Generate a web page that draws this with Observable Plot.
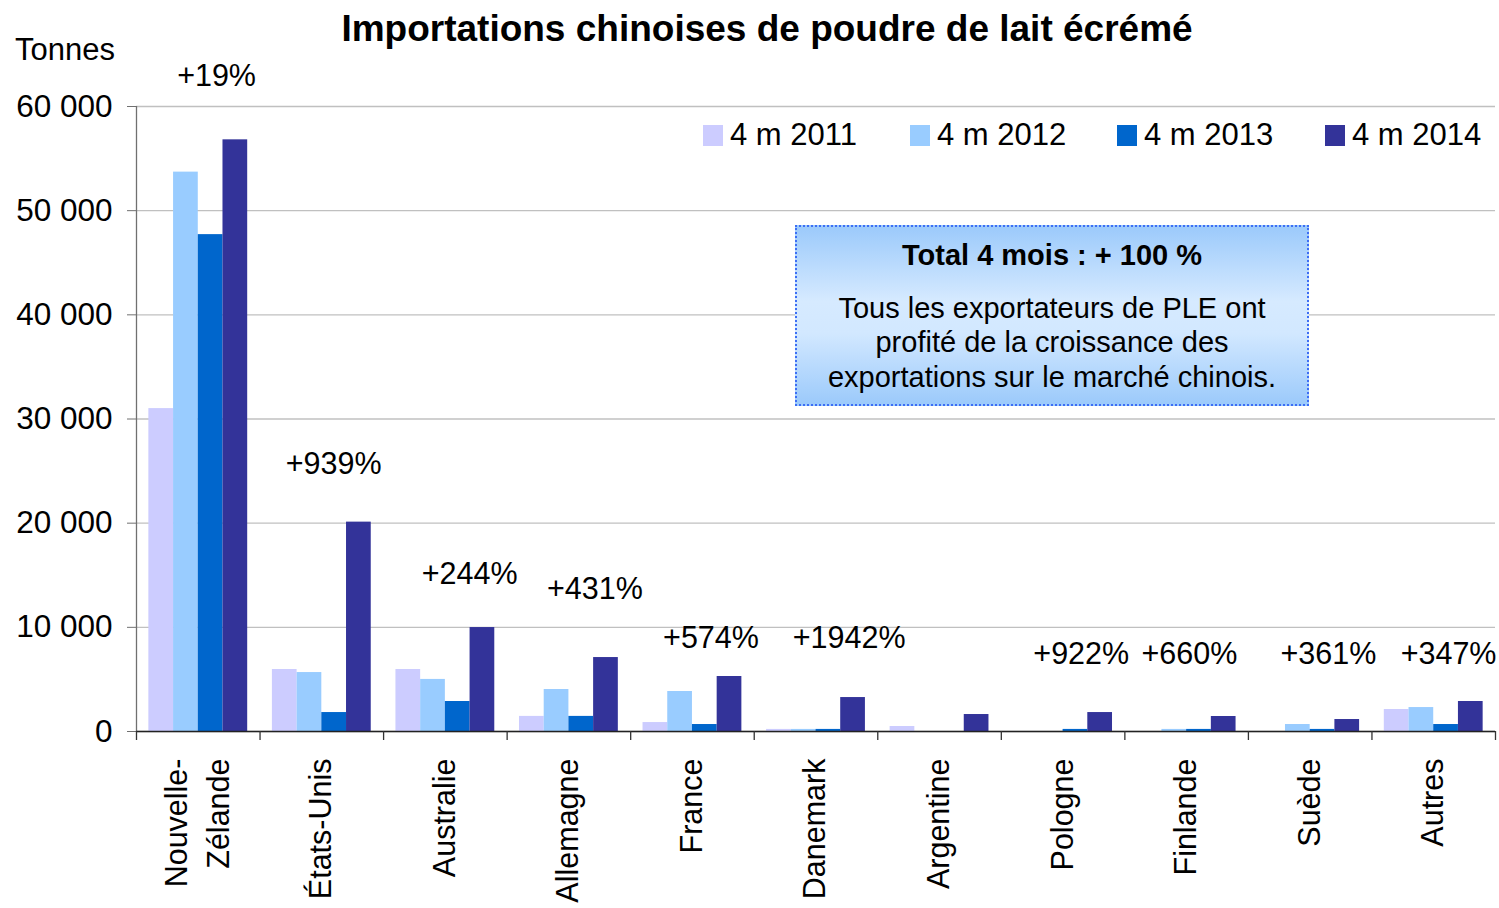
<!DOCTYPE html>
<html>
<head>
<meta charset="utf-8">
<script src="https://cdn.jsdelivr.net/npm/d3@7"></script>
<script src="https://cdn.jsdelivr.net/npm/@observablehq/plot@0.6"></script>
<style>
  body { margin: 0; background: #fff; }
  #wrap { position: relative; width: 1499px; height: 908px; font-family: "Liberation Sans", Arial, sans-serif; color: #000; }
  #wrap svg { position: absolute; left: 0; top: 0; font-family: "Liberation Sans", Arial, sans-serif; }
  .abs { position: absolute; white-space: nowrap; }
  #title { left: 267px; width: 1000px; top: 11px; text-align: center; font-size: 37px; line-height: 36px; font-weight: bold; }
  #unit { left: 15px; top: 34px; font-size: 31px; line-height: 31px; }
  .sw { position: absolute; width: 20px; height: 21px; top: 125px; }
  .lt { position: absolute; top: 119px; font-size: 31px; line-height: 31px; white-space: nowrap; }
  #box { position: absolute; left: 795px; top: 225px; width: 514px; height: 181px; box-sizing: border-box;
         border: 2px dotted #3d6ef5;
         background: linear-gradient(to bottom, #9ccafb 0%, #d6eaff 42%, #d2e8ff 60%, #9ccafb 100%); }
  #box .h { position: absolute; left: 0; right: 0; top: 10.5px; text-align: center; font-weight: bold; font-size: 29px; line-height: 34.5px; }
  #box .b { position: absolute; left: 0; right: 0; top: 63.5px; text-align: center; font-size: 29px; line-height: 34.5px; }
</style>
</head>
<body>
<div id="wrap"></div>
<script>
// ---- Data ----
const countries = ["Nouvelle-\nZélande", "États-Unis", "Australie", "Allemagne", "France", "Danemark", "Argentine", "Pologne", "Finlande", "Suède", "Autres"];
const years = ["4 m 2011", "4 m 2012", "4 m 2013", "4 m 2014"];
const v2011 = [31000, 5950, 5950, 1450, 860, 200, 480, 0, 0, 0, 2110];
const v2012 = [53700, 5660, 5000, 4030, 3840, 200, 0, 0, 200, 670, 2300];
const v2013 = [47700, 1820, 2880, 1450, 670, 200, 0, 200, 200, 200, 670];
const v2014 = [56800, 20100, 9980, 7100, 5280, 3260, 1630, 1820, 1440, 1150, 2880];
const growth = ["+19%", "+939%", "+244%", "+431%", "+574%", "+1942%", "", "+922%", "+660%", "+361%", "+347%"];
// annotation anchor (category units, tonnes)
const growthX = [0.648, 1.596, 2.697, 3.710, 4.650, 5.768, null, 7.647, 8.522, 9.648, 10.620];
const growthY = [62880, 25630, 15070, 13630, 8930, 8930, null, 7390, 7390, 7390, 7390];
const yTicks = [0, 10000, 20000, 30000, 40000, 50000, 60000];
const colors = ["#ccccff", "#99ccff", "#0066cc", "#333399"];
const titleText = "Importations chinoises de poudre de lait écrémé";
const unitText = "Tonnes";
const boxTitle = "Total 4 mois : + 100 %";
const boxLines = ["Tous les exportateurs de PLE ont", "profité de la croissance des", "exportations sur le marché chinois."];

// ---- Build ----
const series = [v2011, v2012, v2013, v2014];
const rows = [];
countries.forEach((c, i) => {
  series.forEach((s, k) => {
    rows.push({country: c, year: years[k], value: s[i], x1: i + 0.1 + 0.2 * k, x2: i + 0.1 + 0.2 * (k + 1)});
  });
});
const annots = growth.map((g, i) => ({label: g, x: growthX[i], y: growthY[i]})).filter(d => d.label);
const fmt = d => d3.format(",")(d).replace(/,/g, " ");

const svg = Plot.plot({
  width: 1499,
  height: 908,
  marginTop: 106,
  marginBottom: 177,
  marginLeft: 136,
  marginRight: 4,
  style: {background: "transparent", fontFamily: "Liberation Sans, Arial, sans-serif", color: "#000"},
  x: {type: "linear", domain: [0, countries.length], axis: null},
  y: {domain: [0, 60000], axis: null},
  color: {domain: years, range: colors},
  marks: [
    Plot.gridY(yTicks, {stroke: "#c0c0c0", strokeOpacity: 1, strokeWidth: 1.3}),
    Plot.axisY(yTicks, {tickSize: 9, tickPadding: 15, fontSize: 31.5, tickFormat: fmt, stroke: "#707070", strokeOpacity: 1, color: "#000"}),
    Plot.rect(rows, {x1: "x1", x2: "x2", y1: () => 0, y2: "value", fill: "year"}),
    Plot.ruleX([0], {stroke: "#707070", strokeWidth: 1.3}),
    Plot.ruleY([0], {stroke: "#222", strokeWidth: 1.3}),
    Plot.axisX(d3.range(countries.length + 1), {anchor: "bottom", tickSize: 9, tickFormat: () => "", stroke: "#333", strokeOpacity: 1, strokeWidth: 1.3}),
    Plot.text(countries, {x: (d, i) => i + 0.5, y: () => 0, text: d => d, rotate: -90, textAnchor: "end", dy: 27, dx: -4, fontSize: 30.5, lineHeight: 1.38, fill: "#000"}),
    Plot.text(annots, {x: "x", y: "y", text: "label", fontSize: 30.5, fill: "#000"})
  ]
});

const wrap = document.getElementById("wrap");
wrap.appendChild(svg);

const t = document.createElement("div"); t.className = "abs"; t.id = "title"; t.textContent = titleText; wrap.appendChild(t);
const u = document.createElement("div"); u.className = "abs"; u.id = "unit"; u.textContent = unitText; wrap.appendChild(u);

const swLeft = [703, 910, 1117, 1325];
years.forEach((y, k) => {
  const s = document.createElement("div"); s.className = "sw"; s.style.left = swLeft[k] + "px"; s.style.background = colors[k]; wrap.appendChild(s);
  const l = document.createElement("div"); l.className = "lt"; l.style.left = (swLeft[k] + 27) + "px"; l.textContent = y; wrap.appendChild(l);
});

const box = document.createElement("div"); box.id = "box";
const bh = document.createElement("div"); bh.className = "h"; bh.textContent = boxTitle; box.appendChild(bh);
const bb = document.createElement("div"); bb.className = "b"; bb.innerHTML = boxLines.join("<br>"); box.appendChild(bb);
wrap.appendChild(box);
</script>
</body>
</html>
